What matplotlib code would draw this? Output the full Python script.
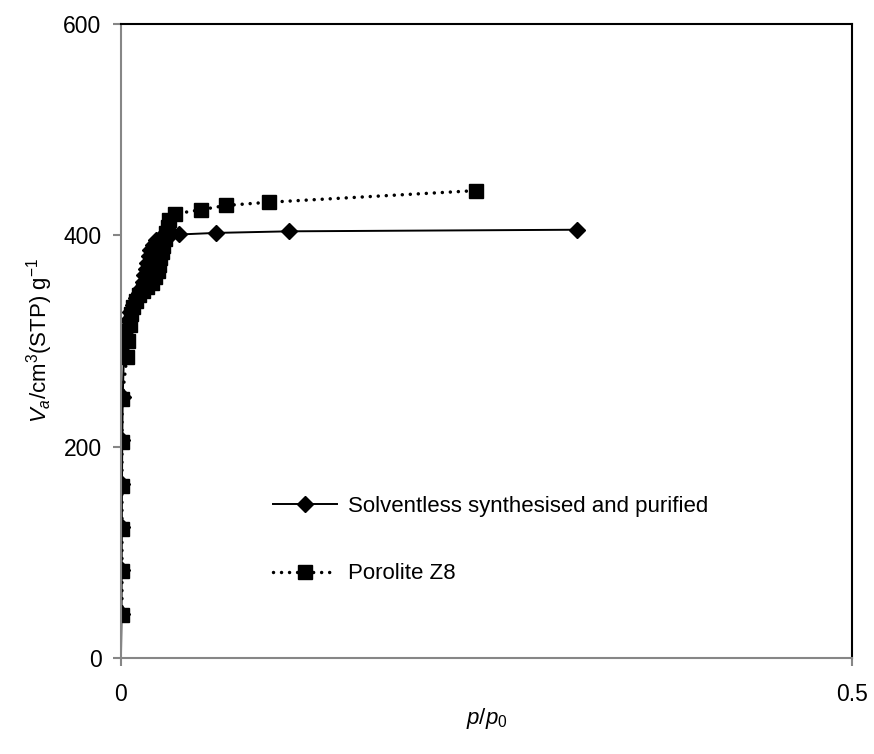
import numpy as np
import matplotlib.pyplot as plt

plt.rcParams['font.family'] = ['Liberation Sans', 'DejaVu Sans']
plt.rcParams['mathtext.fontset'] = 'custom'
plt.rcParams['mathtext.rm'] = 'Liberation Sans'
plt.rcParams['mathtext.it'] = 'Liberation Sans:italic'

# Solventless synthesised and purified
p_solv = [0.0, 0.0004, 0.0005, 0.0006, 0.0007, 0.0009, 0.0012, 0.002, 0.003, 0.0035,
          0.004, 0.005, 0.006, 0.008, 0.010, 0.012, 0.014, 0.015, 0.016, 0.017,
          0.018, 0.019, 0.020, 0.022, 0.024, 0.027, 0.030, 0.033, 0.0397, 0.065,
          0.115, 0.312]
v_solv = [0, 42, 83, 124, 165, 206, 247, 285, 297, 305,
          313, 320, 327, 334, 340, 345, 350, 356, 362, 368,
          374, 380, 386, 391, 395, 397, 398, 399, 400.5, 402,
          403.5, 405]

# Porolite Z8
p_por = [0.0007, 0.0007, 0.0007, 0.0007, 0.0007, 0.0008, 0.004, 0.005, 0.006, 0.007,
         0.008, 0.010, 0.012, 0.015, 0.018, 0.021, 0.023, 0.025, 0.026, 0.027,
         0.028, 0.029, 0.030, 0.031, 0.032, 0.033, 0.037, 0.055, 0.072, 0.101,
         0.243]
v_por = [41, 82, 122, 163, 204, 245, 285, 300, 315, 325,
         332, 338, 343, 347, 351, 355, 360, 366, 372, 378,
         384, 390, 396, 402, 408, 414, 420, 424, 428, 431,
         442]

fig = plt.figure(figsize=(8.74, 7.54), dpi=100)
ax = fig.add_axes([0.1384, 0.1273, 0.8364, 0.8415])

ax.plot(p_solv, v_solv, color='black', lw=1.4, marker='D', ms=8,
        markevery=slice(1, None), label='Solventless synthesised and purified')
ax.plot(p_por, v_por, color='black', lw=2.5, linestyle=(0, (0.01, 2.3)),
        dash_capstyle='round', marker='s', ms=9.5, label='Porolite Z8')

ax.set_xlim(0, 0.5)
ax.set_ylim(0, 600)
ax.set_xticks([0, 0.5])
ax.set_xticklabels(['0', '0.5'])
ax.set_yticks([0, 200, 400, 600])

for s in ['left', 'bottom']:
    ax.spines[s].set_color('#868686')
    ax.spines[s].set_linewidth(1.5)
for s in ['top', 'right']:
    ax.spines[s].set_color('black')
    ax.spines[s].set_linewidth(1.5)
ax.tick_params(axis='both', direction='out', length=6, width=1.5,
               color='#868686', labelsize=16.5)
ax.tick_params(axis='x', pad=12)
ax.tick_params(axis='y', pad=8)

ax.set_xlabel(r'$p$/$p_{\mathrm{0}}$', fontsize=16, labelpad=0)
ax.set_ylabel(r'$V_a$/cm$^3$(STP) g$^{-1}$', fontsize=16, labelpad=6)

ax.legend(loc='center left', bbox_to_anchor=(0.18, 0.186), frameon=False,
          fontsize=16, handlelength=2.9, labelspacing=2.1, handletextpad=0.5)

fig.savefig('out.png', dpi=100)
